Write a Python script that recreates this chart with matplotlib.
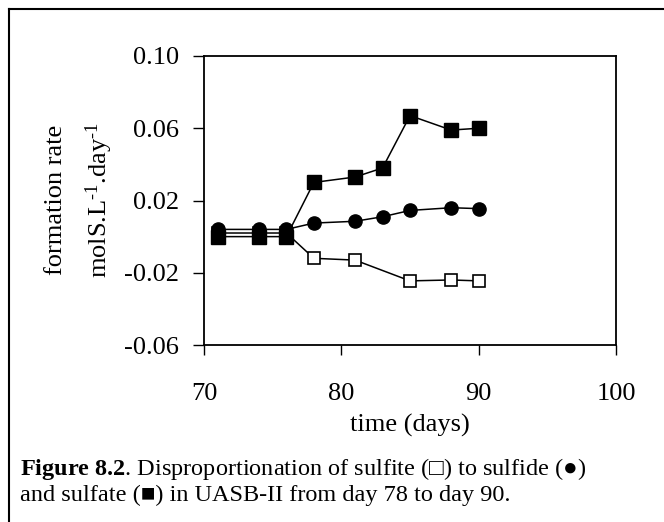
import numpy as np
import matplotlib
matplotlib.use("Agg")
import matplotlib.pyplot as plt
from matplotlib.lines import Line2D

# --- data ---
days_all = [71, 74, 76, 78, 81, 83, 85, 88, 90]
sulfate = [0.0, 0.0, 0.0, 0.030, 0.033, 0.038, 0.067, 0.059, 0.060]
sulfide = [0.004, 0.004, 0.004, 0.0075, 0.0085, 0.011, 0.0145, 0.016, 0.0155]
days_sulfite = [71, 74, 76, 78, 81, 85, 88, 90]
sulfite = [0.002, 0.002, 0.002, -0.012, -0.013, -0.0245, -0.024, -0.0245]

x_ticks = [70, 80, 90, 100]
y_ticks = [-0.06, -0.02, 0.02, 0.06, 0.10]

plt.rcParams['font.family'] = ['Liberation Serif', 'DejaVu Serif']
plt.rcParams['mathtext.fontset'] = 'custom'
plt.rcParams['mathtext.rm'] = 'Liberation Serif'
plt.rcParams['mathtext.it'] = 'Liberation Serif:italic'
plt.rcParams['mathtext.bf'] = 'Liberation Serif:bold'

W, H = 664, 522
fig = plt.figure(figsize=(W / 100, H / 100), dpi=100)
ax = fig.add_axes([204 / W, 1 - 345 / H, 412 / W, 289 / H])

# series
ax.plot(days_sulfite, sulfite, color='black', lw=1.1, marker='s', ms=9,
        mfc='white', mec='black', mew=1.2, zorder=3)
ax.plot(days_all, sulfide, color='black', lw=1.1, marker='o', ms=9.5,
        mfc='black', mec='black', zorder=4)
ax.plot(days_all, sulfate, color='black', lw=1.1, marker='s', ms=10,
        mfc='black', mec='black', zorder=5)

# axes
ax.set_xlim(70, 100)
ax.set_ylim(-0.06, 0.10)
ax.set_xticks(x_ticks)
ax.set_yticks(y_ticks)
ax.set_yticklabels([f"{v:.2f}" for v in y_ticks])
ax.tick_params(axis='x', direction='out', length=7, width=1, labelsize=19, pad=20)
ax.tick_params(axis='y', direction='out', length=8, width=1, labelsize=19, pad=10)
for s in ax.spines.values():
    s.set_linewidth(1.3)

ax.set_xlabel("time (days)", fontsize=19, labelpad=7)

# y label in two lines
fig.text(56 / W, 1 - 200 / H, "formation rate", rotation=90,
         ha='center', va='center', fontsize=19)
fig.text(99 / W, 1 - 200 / H, r"molS.L$^{\text{-}1}$.day$^{\text{-}1}$", rotation=90,
         ha='center', va='center', fontsize=19)

# caption
fig.text(20 / W, 1 - 475 / H,
         r"$\mathbf{Figure\ 8.2}$. Disproportionation of sulfite (□) to sulfide (●)",
         ha='left', va='baseline', fontsize=17.5)
fig.text(20 / W, 1 - 501 / H,
         "and sulfate (■) in UASB-II from day 78 to day 90.",
         ha='left', va='baseline', fontsize=17.5)

# outer frame (top and left edges)
fig.add_artist(Line2D([9 / W, 9 / W], [0, 1 - 9 / H], transform=fig.transFigure,
                      color='black', lw=1.5))
fig.add_artist(Line2D([9 / W, 1], [1 - 9 / H, 1 - 9 / H], transform=fig.transFigure,
                      color='black', lw=1.5))

fig.savefig("out.png", dpi=100)
